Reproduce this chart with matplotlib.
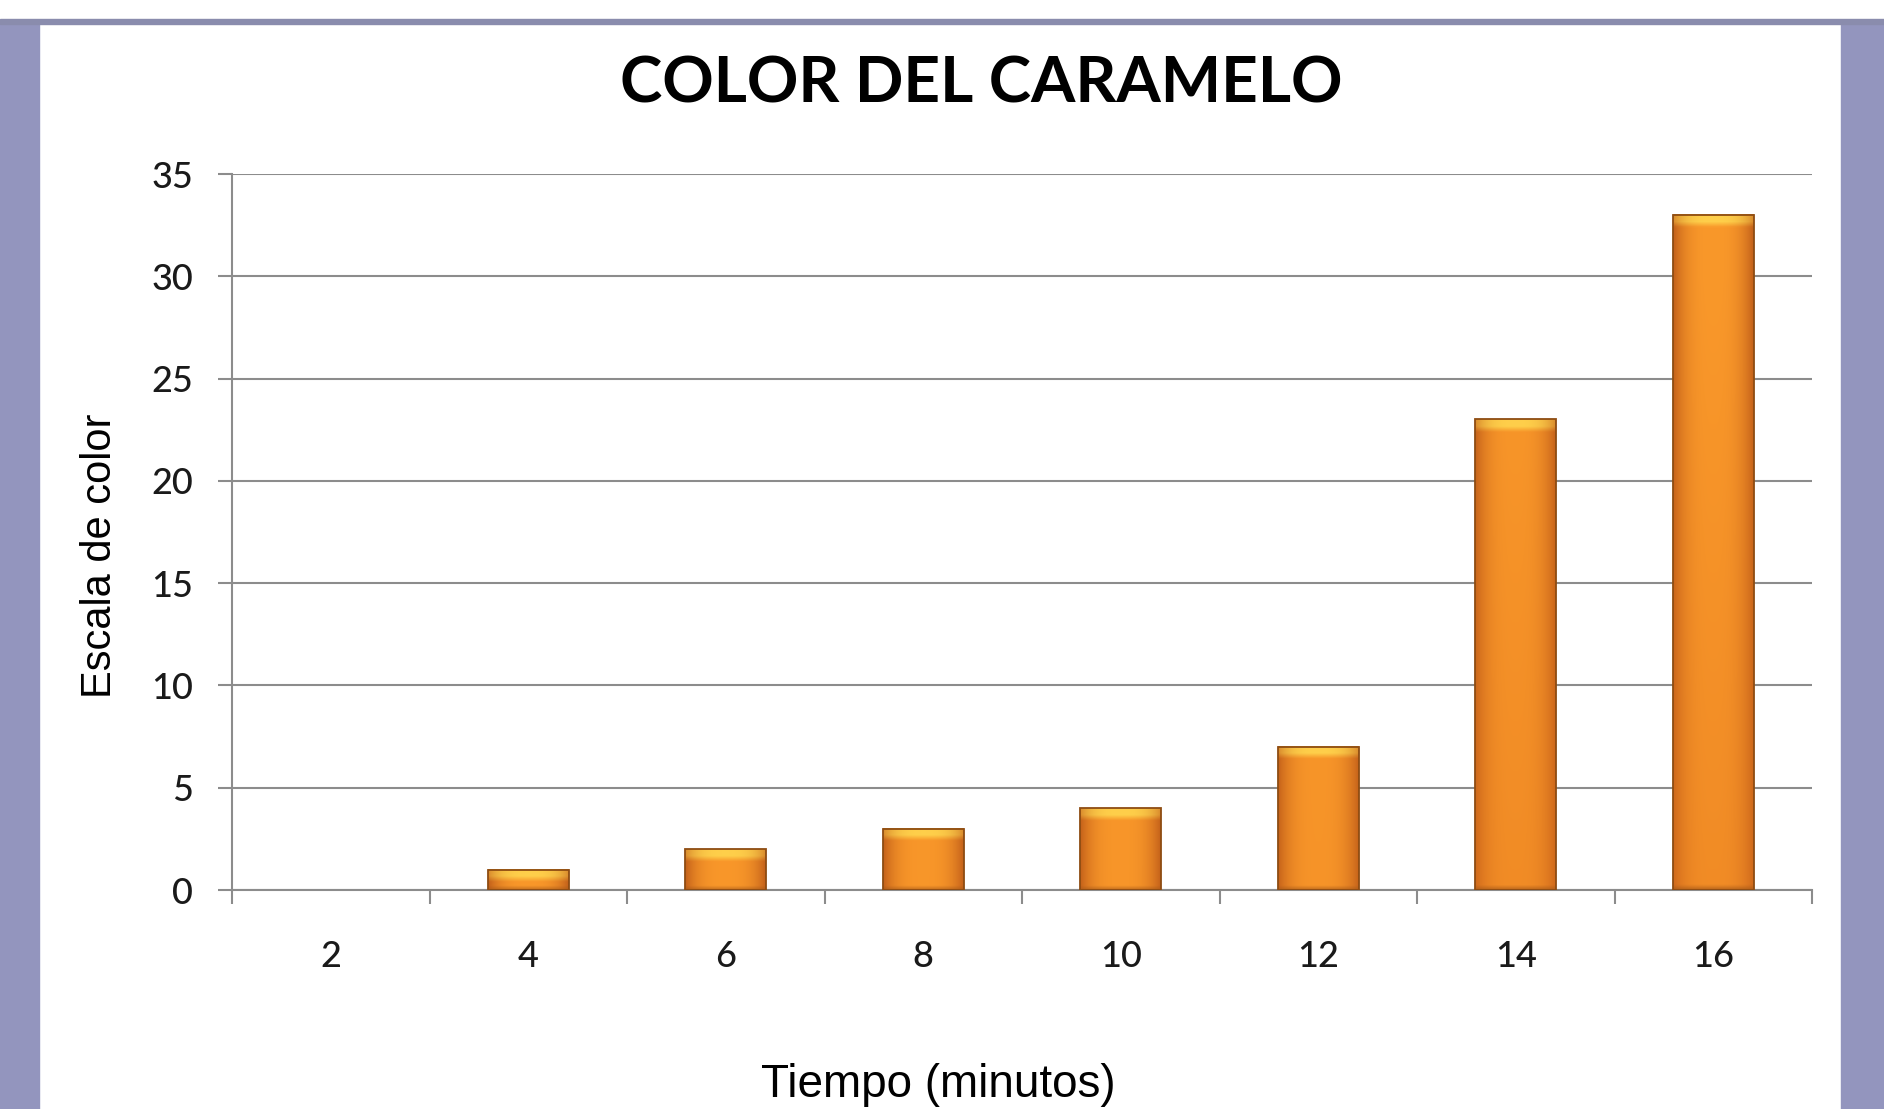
import numpy as np
import matplotlib.pyplot as plt
from matplotlib.patches import Rectangle
from matplotlib.colors import to_rgb

# tiempo (minutos) vs escala de color
tiempos = ["2", "4", "6", "8", "10", "12", "14", "16"]
escala = [0, 1, 2, 3, 4, 7, 23, 33]

W, H = 1884, 1109
fig = plt.figure(figsize=(W / 100, H / 100), dpi=100)
fig.patch.set_facecolor("white")

# marco morado alrededor del panel
marco = "#9395BE"
fig.patches.append(Rectangle((0, 0), 39 / W, 1 - 23 / H, transform=fig.transFigure,
                             color=marco, zorder=0))
fig.patches.append(Rectangle((1841 / W, 0), 1 - 1841 / W, 1 - 23 / H,
                             transform=fig.transFigure, color=marco, zorder=0))
fig.patches.append(Rectangle((0, 1 - 24 / H), 1, 5 / H, transform=fig.transFigure,
                             color="#8A8CAD", zorder=0))

ax = fig.add_axes([232 / W, 1 - 890 / H, (1812 - 232) / W, (890 - 174) / H])
ax.set_facecolor("white")

gris = "#8C8C8C"
x = np.arange(len(tiempos))
ancho = 0.41
barras = ax.bar(x, escala, width=ancho, color="none", edgecolor="#8E4C12",
                linewidth=1.3, zorder=4)
for rect, h in zip(barras, escala):
    if h <= 0:
        rect.set_visible(False)

# relleno con degradado y bisel: tapa clara arriba, franja oscura abajo
centro = np.array(to_rgb("#F9982A"))
borde = np.array(to_rgb("#C2601A"))
fondo = np.array(to_rgb("#E5791F"))
tapa = np.array(to_rgb("#FFD24C"))
base = np.array(to_rgb("#A85A18"))
cap = 0.6
pie = 0.22
for rect, h in zip(barras, escala):
    if h <= 0:
        continue
    x0 = rect.get_x()
    x1 = x0 + rect.get_width()
    ys = np.linspace(0, h, 400)
    t = np.linspace(0, 1, 80)
    perfil = np.abs(2 * t - 1) ** 3
    fila = centro[None, :] * (1 - perfil[:, None]) + borde[None, :] * perfil[:, None]
    img = np.repeat(fila[None, :, :], len(ys), axis=0)
    # algo más oscuro hacia la base en las barras altas
    oscuro = np.clip(1 - ys / 30, 0, 1) * 0.4 * min(h / 20, 1)
    img = img * (1 - oscuro[:, None, None]) + fondo[None, None, :] * oscuro[:, None, None]
    # banda clara en la parte superior
    d = (h - ys) / cap
    mezcla = np.where(d < 0.55, 0.95, np.clip(1 - (d - 0.55) / 0.45, 0, 1) * 0.95)
    tapa_fila = tapa[None, :] * (1 - 0.6 * perfil[:, None]) + borde[None, :] * 0.6 * perfil[:, None]
    img = img * (1 - mezcla[:, None, None]) + tapa_fila[None, :, :] * mezcla[:, None, None]
    # franja oscura en la base
    b = np.clip(1 - ys / pie, 0, 1) * 0.7
    img = img * (1 - b[:, None, None]) + base[None, None, :] * b[:, None, None]
    ax.imshow(np.clip(img, 0, 1), extent=(x0, x1, 0, h), origin="lower",
              aspect="auto", clip_path=rect, zorder=3, interpolation="bilinear")

ax.set_xlim(-0.5, len(tiempos) - 0.5)
ax.set_ylim(0, 35)
ax.set_yticks(np.arange(0, 36, 5))
ax.yaxis.grid(True, color=gris, linewidth=1.5)
ax.set_axisbelow(True)

for s in ["top", "right"]:
    ax.spines[s].set_visible(False)
for s in ["left", "bottom"]:
    ax.spines[s].set_color(gris)
    ax.spines[s].set_linewidth(1.5)

ax.set_xticks(x)
ax.set_xticklabels(tiempos)
ax.set_xticks(np.arange(-0.5, len(tiempos), 1), minor=True)
ax.tick_params(axis="x", which="major", length=0, pad=36)
ax.tick_params(axis="x", which="minor", length=10, width=1.5, color=gris, direction="out")
ax.tick_params(axis="y", length=10, width=1.5, color=gris, pad=18)
for lab in ax.get_xticklabels() + ax.get_yticklabels():
    lab.set_fontfamily("Lato")
    lab.set_fontsize(26)
    lab.set_fontweight("medium")
    lab.set_color("#1A1A1A")

fig.text(981 / W, 1 - 84 / H, "COLOR DEL CARAMELO", ha="center", va="center",
         fontsize=46, fontweight="bold", family="Lato", color="black")
fig.text(938 / W, 1 - 1085 / H, "Tiempo (minutos)", ha="center", va="center",
         fontsize=33, family="Liberation Sans", color="black")
fig.text(100 / W, 1 - 556 / H, "Escala de color", ha="center", va="center",
         rotation=90, fontsize=30, family="Liberation Sans", color="black")

fig.savefig("out.png", dpi=100)
